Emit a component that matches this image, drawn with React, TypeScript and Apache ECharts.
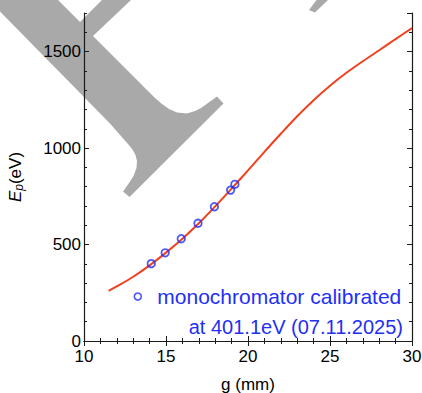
import React, { useEffect, useRef } from "react";
import * as echarts from "echarts";

// ---- data ----
const fitGap = [11.5, 12, 13, 14, 15, 16, 17, 18, 19, 20, 21, 22, 23, 24, 25, 26, 27, 28, 29, 30];
const fitEnergy = [260, 283, 333, 392, 458, 530, 610, 698, 790, 884, 980, 1074, 1165, 1248, 1323, 1390, 1450, 1507, 1565, 1622];
const measGap = [14.1, 14.95, 15.93, 16.95, 17.95, 18.94, 19.2];
const measEnergy = [401, 457, 530, 610, 696, 782, 812];
const xTicks = [10, 15, 20, 25, 30];
const yTicks = [0, 500, 1000, 1500];
const legendLine1 = "monochromator calibrated";
const legendLine2 = "at 401.1eV (07.11.2025)";

const FONT = "'Liberation Sans', Arial, sans-serif";
const BLUE = "#1f30f5";
const RED = "#f2401e";
const GRAY = "#a9a9a9";
const AX = "#1a1a1a";

export default function App() {
  const ref = useRef<HTMLDivElement>(null);
  useEffect(() => {
    if (!ref.current) return;
    const chart = echarts.init(ref.current, null, { renderer: "svg" });
    const axLine = { show: true, lineStyle: { color: AX, width: 1.2 } };
    const majorTick = { show: true, inside: true, length: 5, lineStyle: { color: AX, width: 1 } };
    const minorTickX = { show: true, splitNumber: 5, length: 3, lineStyle: { color: AX, width: 1 } };
    const minorTickY = { show: true, inside: true, length: 3, lineStyle: { color: AX, width: 1 } };
    const xMin = xTicks[0], xMax = xTicks[xTicks.length - 1];
    const xInt = xTicks[1] - xTicks[0];
    const yInt = yTicks[1] - yTicks[0];
    const option: any = {
      animation: false,
      backgroundColor: "#ffffff",
      grid: { left: 84, right: 10, top: 13, bottom: 52, containLabel: false, outerBoundsMode: "none" },
      xAxis: [
        {
          type: "value", position: "bottom", min: xMin, max: xMax, interval: xInt, z: 3,
          axisLine: axLine, axisTick: majorTick, minorTick: minorTickX, splitLine: { show: false },
          axisLabel: { show: true, margin: 7, fontSize: 17, color: "#000", fontFamily: FONT, formatter: (v: number) => String(v) },
          name: "g (mm)", nameLocation: "middle", nameGap: 35,
          nameTextStyle: { fontSize: 17, color: "#000", fontFamily: FONT },
        },
        {
          type: "value", position: "top", min: xMin, max: xMax, interval: xInt, z: 3,
          axisLine: axLine, axisTick: majorTick, minorTick: minorTickX, splitLine: { show: false },
          axisLabel: { show: false },
        },
      ],
      yAxis: [
        {
          type: "value", position: "left", min: 0, max: 1700, interval: yInt, z: 3,
          axisLine: axLine, axisTick: majorTick, splitLine: { show: false },
          axisLabel: {
            show: true, margin: 3, fontSize: 17, color: "#000", fontFamily: FONT, showMaxLabel: false,
            formatter: (v: number) => (yTicks.includes(v) ? String(v) : ""),
          },
          name: "{e|E}{p|p}{n|(eV)}", nameLocation: "middle", nameGap: 59,
          nameTextStyle: {
            color: "#000", fontFamily: FONT,
            rich: {
              e: { fontSize: 17, fontStyle: "italic", fontFamily: FONT, lineHeight: 20 },
              p: { fontSize: 12, fontStyle: "italic", fontFamily: FONT, lineHeight: 13, verticalAlign: "bottom" },
              n: { fontSize: 17, fontFamily: FONT, lineHeight: 20 },
            },
          },
        },
        {
          type: "value", position: "left", min: 0, max: 1700, interval: 100, z: 3,
          axisLine: { show: false }, axisTick: minorTickY, splitLine: { show: false }, axisLabel: { show: false },
        },
        {
          type: "value", position: "right", min: 0, max: 1700, interval: yInt, z: 3,
          axisLine: axLine, axisTick: majorTick, splitLine: { show: false }, axisLabel: { show: false },
        },
        {
          type: "value", position: "right", min: 0, max: 1700, interval: 100, z: 3,
          axisLine: { show: false }, axisTick: minorTickY, splitLine: { show: false }, axisLabel: { show: false },
        },
      ],
      legend: {
        data: [
          {
            name: legendLine1, icon: "circle",
            itemStyle: { color: "transparent", borderColor: BLUE, borderWidth: 1.6 },
          },
        ],
        left: 133.5, top: 286, padding: 0, itemWidth: 7, itemHeight: 7,
        textStyle: { fontSize: 21, color: BLUE, fontFamily: FONT, padding: [8, 0, 0, 11] },
        selectedMode: false,
      },
      graphic: [
        {
          type: "polygon", z: 0, silent: true,
          shape: {
            points: [
              [0, 0], [58, 0], [80, 22], [102, 0], [131, 0], [93, 36], [140, 83], [147, 90],
              [155, 98], [162, 104], [169, 109], [177, 112.5], [187, 113.5], [195, 111], [201, 108],
              [217, 96.5], [223.5, 103.5], [129.5, 197], [123, 191.5], [129, 183], [133.5, 176],
              [136.5, 168], [137, 161], [135.5, 155], [132.5, 149.5], [128, 144], [110, 123.5], [0, 11.5],
            ],
          },
          style: { fill: GRAY },
        },
        {
          type: "polygon", z: 0, silent: true,
          shape: { points: [[309, 10], [315, 12.5], [328, 0], [316.5, 0]] },
          style: { fill: GRAY },
        },
        {
          type: "text", z: 10, x: 403, y: 327,
          style: { text: legendLine2, fill: BLUE, font: `20px ${FONT}`, align: "right", verticalAlign: "middle" },
        },
      ],
      series: [
        {
          name: "fit", type: "line", xAxisIndex: 0, yAxisIndex: 0, smooth: 0.3, showSymbol: false,
          lineStyle: { color: RED, width: 2 }, z: 4,
          data: fitGap.map((g, i) => [g, fitEnergy[i]]),
        },
        {
          name: legendLine1, type: "scatter", xAxisIndex: 0, yAxisIndex: 0, symbol: "circle", symbolSize: 7.5,
          itemStyle: { color: "transparent", borderColor: BLUE, borderWidth: 1.8 }, z: 5,
          data: measGap.map((g, i) => [g, measEnergy[i]]),
        },
      ],
    };
    chart.setOption(option);
    return () => chart.dispose();
  }, []);
  return <div ref={ref} style={{ position: "fixed", left: 0, top: 0, width: 422, height: 393 }} />;
}
